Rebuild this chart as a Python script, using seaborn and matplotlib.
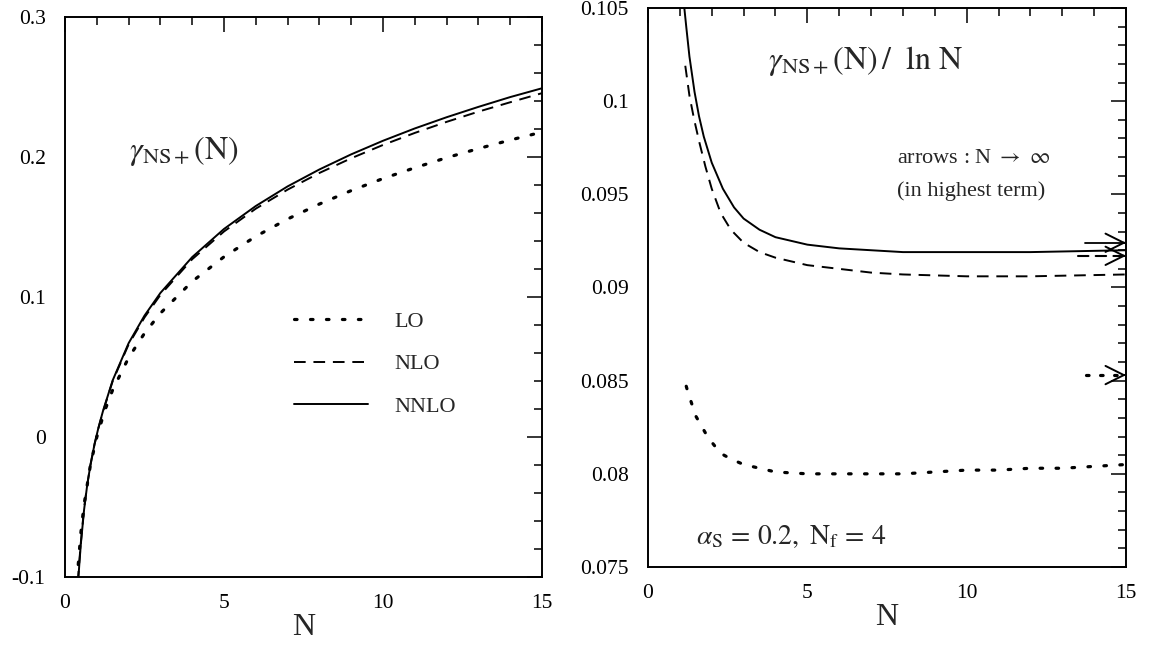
import matplotlib
matplotlib.use("Agg")
import matplotlib.pyplot as plt
import numpy as np
import pandas as pd
import seaborn as sns
from matplotlib.ticker import MultipleLocator

# ---------------- data ----------------
# left panel: gamma_NS+(N)
N_lo = [0.38, 0.4, 0.5, 0.6, 0.8, 1.0, 1.25, 1.5, 2, 2.5, 3, 4, 5, 6, 7, 8, 9, 10, 11, 12, 13, 14, 15]
g_lo = [-0.1025, -0.0957, -0.0682, -0.0482, -0.0199, 0.0, 0.0188, 0.0337, 0.0566, 0.0741, 0.0884,
        0.1111, 0.1287, 0.1433, 0.1557, 0.1664, 0.1760, 0.1846, 0.1923, 0.1995, 0.2060, 0.2121, 0.2178]

N_nlo = [0.4, 0.45, 0.5, 0.6, 0.7, 0.8, 0.93, 1.05, 1.2, 1.5, 2, 2.5, 3, 4, 5, 6, 7, 8, 9, 10, 11, 12, 13, 14, 15]
g_nlo = [-0.104, -0.089, -0.075, -0.051, -0.034, -0.020, -0.005, 0.0062, 0.0185, 0.0400, 0.0661, 0.0854,
         0.1015, 0.1270, 0.1468, 0.1631, 0.1767, 0.1886, 0.1991, 0.2086, 0.2172, 0.2251, 0.2324, 0.2391, 0.2456]

N_nnlo = [0.4, 0.45, 0.5, 0.6, 0.7, 0.8, 0.93, 1.05, 1.2, 1.5, 2, 2.5, 3, 4, 5, 6, 7, 8, 9, 10, 11, 12, 13, 14, 15]
g_nnlo = [-0.108, -0.091, -0.076, -0.052, -0.034, -0.020, -0.005, 0.0065, 0.0190, 0.0405, 0.0670, 0.0867,
          0.1029, 0.1285, 0.1486, 0.1650, 0.1790, 0.1911, 0.2019, 0.2116, 0.2204, 0.2284, 0.2358, 0.2428, 0.2491]

# right panel: gamma_NS+(N) / ln N
Nr_lo = [1.2, 1.25, 1.5, 1.8, 2, 2.28, 2.6, 3, 3.5, 4, 5, 6, 7, 8, 9, 10, 11, 12, 13, 14, 15]
r_lo = [0.0847, 0.0844, 0.0831, 0.0822, 0.0817, 0.0811, 0.0808, 0.0805, 0.0803, 0.0801, 0.0800, 0.0800,
        0.0800, 0.0800, 0.0801, 0.0802, 0.0802, 0.0803, 0.0803, 0.0804, 0.0805]

Nr_nlo = [1.17, 1.3, 1.45, 1.61, 1.8, 2.0, 2.28, 2.6, 3, 3.5, 4, 5, 6, 7, 8, 10, 12, 15]
r_nlo = [0.1019, 0.1003, 0.0990, 0.0978, 0.0965, 0.0953, 0.0940, 0.0931, 0.0924, 0.0919, 0.0916, 0.0912,
         0.0910, 0.0908, 0.0907, 0.0906, 0.0906, 0.0907]

Nr_nnlo = [1.14, 1.2, 1.3, 1.46, 1.6, 1.75, 2.0, 2.35, 2.7, 3.0, 3.5, 4, 5, 6, 7, 8, 10, 12, 15]
r_nnlo = [0.1050, 0.1040, 0.1024, 0.1005, 0.0992, 0.0981, 0.0967, 0.0953, 0.0943, 0.0937, 0.0931, 0.0927,
          0.0923, 0.0921, 0.0920, 0.0919, 0.0919, 0.0919, 0.0920]

# asymptotic values (arrows, N -> infinity in highest term)
asym_labels = ["LO", "NLO", "NNLO"]
asym_values = [0.0853, 0.0917, 0.0924]

legend_labels = ["LO", "NLO", "NNLO"]
xticks = [0, 5, 10, 15]
left_yticks = [-0.1, 0, 0.1, 0.2, 0.3]
left_yticklabels = ["-0.1", "0", "0.1", "0.2", "0.3"]
right_yticks = [0.075, 0.08, 0.085, 0.09, 0.095, 0.1, 0.105]
right_yticklabels = ["0.075", "0.08", "0.085", "0.09", "0.095", "0.1", "0.105"]

# ---------------- style ----------------
sns.set_theme(style="white")
plt.rcParams["font.family"] = ["Liberation Serif", "DejaVu Serif"]
plt.rcParams["mathtext.fontset"] = "stix"

fig = plt.figure(figsize=(11.55, 6.46), dpi=100)
ax1 = fig.add_axes([65 / 1155, 1 - 577 / 646, 477 / 1155, 560 / 646])
ax2 = fig.add_axes([648 / 1155, 1 - 567 / 646, 478 / 1155, 559 / 646])

dot_style = dict(color="black", linestyle=(0, (0.8, 4.2)), linewidth=2.3, dash_capstyle="round")
dash_style = dict(color="black", linestyle=(0, (6, 4)), linewidth=1.4)
solid_style = dict(color="black", linestyle="-", linewidth=1.4)

sns.lineplot(x=N_lo, y=g_lo, ax=ax1, label=legend_labels[0], sort=False, **dot_style)
sns.lineplot(x=N_nlo, y=g_nlo, ax=ax1, label=legend_labels[1], sort=False, **dash_style)
sns.lineplot(x=N_nnlo, y=g_nnlo, ax=ax1, label=legend_labels[2], sort=False, **solid_style)

sns.lineplot(x=Nr_lo, y=r_lo, ax=ax2, sort=False, **dot_style)
sns.lineplot(x=Nr_nlo, y=r_nlo, ax=ax2, sort=False, **dash_style)
sns.lineplot(x=Nr_nnlo, y=r_nnlo, ax=ax2, sort=False, **solid_style)

ax1.set_xlim(0, 15)
ax1.set_ylim(-0.1, 0.3)
ax2.set_xlim(0, 15)
ax2.set_ylim(0.075, 0.105)

for ax in (ax1, ax2):
    ax.set_xticks(xticks)
    ax.set_xticklabels([str(t) for t in xticks])
    ax.xaxis.set_minor_locator(MultipleLocator(1))
    ax.tick_params(which="both", direction="in", top=True, right=True, width=1.1,
                   colors="black", labelsize=15.5)
    ax.tick_params(which="major", length=11)
    ax.tick_params(which="minor", length=5.5)
    ax.tick_params(axis="x", pad=12)
    ax.tick_params(axis="y", pad=14)
    for s in ax.spines.values():
        s.set_linewidth(1.4)
        s.set_color("black")
    ax.set_xlabel("N", fontsize=23, labelpad=0)
    ax.set_ylabel("")
    ax.grid(False)

ax1.set_yticks(left_yticks)
ax1.set_yticklabels(left_yticklabels)
ax1.yaxis.set_minor_locator(MultipleLocator(0.02))
ax2.set_yticks(right_yticks)
ax2.set_yticklabels(right_yticklabels)
ax2.yaxis.set_minor_locator(MultipleLocator(0.001))

leg = ax1.legend(loc="center", bbox_to_anchor=(0.65, 0.38), frameon=False, fontsize=16,
                 handlelength=3.3, labelspacing=1.0, handletextpad=1.2)

ax1.text(0.135, 0.76, r"$\gamma_{\mathrm{NS+}}(\mathrm{N})$", transform=ax1.transAxes,
         fontsize=23, ha="left", va="center")
ax2.text(0.25, 0.905, r"$\gamma_{\mathrm{NS+}}(\mathrm{N})\,/\ \ \mathrm{ln\ N}$", transform=ax2.transAxes,
         fontsize=23, ha="left", va="center")
ax2.text(0.52, 0.73, r"arrows : N $\rightarrow$ $\infty$", transform=ax2.transAxes, fontsize=16,
         ha="left", va="center")
ax2.text(0.52, 0.672, "(in highest term)", transform=ax2.transAxes, fontsize=16,
         ha="left", va="center")
ax2.text(0.1, 0.055, r"$\alpha_{\mathrm{S}}\,=\,0.2,\ \mathrm{N}_{\mathrm{f}}\,=\,4$", transform=ax2.transAxes,
         fontsize=20, ha="left", va="center")

# arrows at the right edge of the right panel: shaft in the curve's style, open solid head
arrow_ls = [(0, (0.8, 3.6)), (0, (5, 3.5)), "-"]
arrow_lw = [2.3, 1.5, 1.3]
arrow_start = [13.75, 13.5, 13.7]
for v, ls, lw, x0 in zip(asym_values, arrow_ls, arrow_lw, arrow_start):
    ax2.plot([x0, 14.95], [v, v], color="black", linestyle=ls, linewidth=lw,
             dash_capstyle="round", clip_on=False)
    ax2.annotate("", xy=(15, v), xytext=(14.9, v),
                 arrowprops=dict(arrowstyle="->,head_length=1.1,head_width=0.55", color="black",
                                 linewidth=1.4, shrinkA=0, shrinkB=0),
                 annotation_clip=False)

fig.savefig("out.png", dpi=100, facecolor="white")
